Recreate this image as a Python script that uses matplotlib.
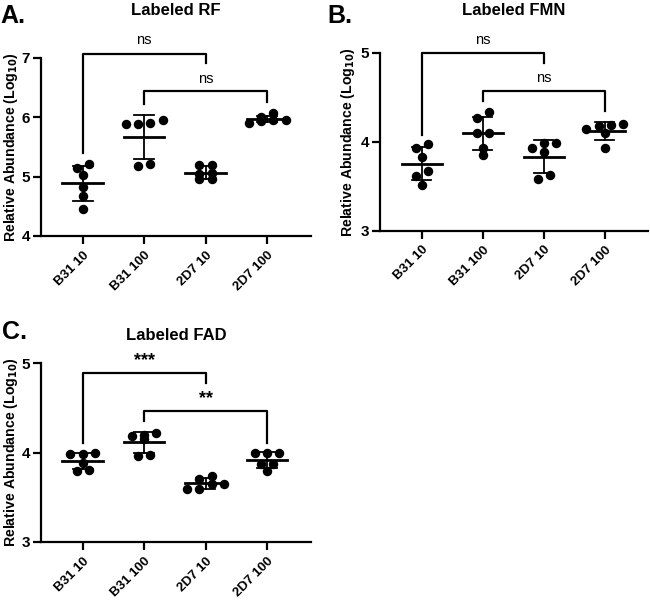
import numpy as np
import matplotlib
matplotlib.use("Agg")
import matplotlib.pyplot as plt

plt.rcParams['font.family'] = ['Liberation Sans', 'DejaVu Sans']

groups = ["B31 10", "B31 100", "2D7 10", "2D7 100"]

# Labeled RF
rf_b31_10 = [5.15, 5.21, 5.03, 4.83, 4.67, 4.45]
rf_b31_100 = [5.88, 5.88, 5.90, 5.95, 5.17, 5.21]
rf_2d7_10 = [5.19, 4.96, 5.06, 5.19, 4.96, 5.05]
rf_2d7_100 = [5.94, 6.00, 6.07, 5.95, 5.96, 5.91]

# Labeled FMN
fmn_b31_10 = [3.93, 3.97, 3.83, 3.67, 3.62, 3.51]
fmn_b31_100 = [4.27, 4.33, 4.10, 4.10, 3.93, 3.85]
fmn_2d7_10 = [3.99, 3.99, 3.93, 3.88, 3.58, 3.63]
fmn_2d7_100 = [4.20, 4.14, 4.18, 4.10, 4.19, 3.93]

# Labeled FAD
fad_b31_10 = [3.98, 3.99, 3.98, 3.88, 3.79, 3.81]
fad_b31_100 = [4.19, 4.15, 4.20, 4.22, 3.96, 3.97]
fad_2d7_10 = [3.70, 3.59, 3.65, 3.74, 3.59, 3.65]
fad_2d7_100 = [3.99, 3.99, 3.99, 3.87, 3.79, 3.87]

# significance brackets: (left group, right group, label)
rf_sig = [(0, 2, "ns"), (1, 3, "ns")]
fmn_sig = [(0, 2, "ns"), (1, 3, "ns")]
fad_sig = [(0, 2, "***"), (1, 3, "**")]


def row_offsets(vals, thr, step=0.2):
    # prism-like scatter: points with close values go in one row, centred
    order = np.argsort(vals)[::-1]
    rows = []
    for idx in order:
        if rows and vals[rows[-1][0]] - vals[idx] <= thr:
            rows[-1].append(idx)
        else:
            rows.append([idx])
    offs = np.zeros(len(vals))
    for r in rows:
        r = sorted(r, key=lambda j: vals[j])
        n = len(r)
        for k, j in enumerate(r):
            offs[j] = (k - (n - 1) / 2) * step
    return offs


def draw_panel(rect, title, title_y, data, ylim, yticks, sig, brk, label_x):
    ax = fig.add_axes(rect)
    yr = ylim[1] - ylim[0]
    for i, vals in enumerate(data):
        vals = np.array(vals)
        offs = row_offsets(vals, yr * 0.032)
        ax.plot(i + offs, vals, 'o', color='black', ms=5.8, clip_on=False, zorder=3)
        m = vals.mean()
        sd = vals.std(ddof=1)
        ax.plot([i - 0.33, i + 0.33], [m, m], color='black', lw=2.0, zorder=4)
        ax.plot([i, i], [m - sd, m + sd], color='black', lw=1.3, zorder=4)
        ax.plot([i - 0.16, i + 0.16], [m + sd, m + sd], color='black', lw=1.3, zorder=4)
        ax.plot([i - 0.16, i + 0.16], [m - sd, m - sd], color='black', lw=1.3, zorder=4)
    for (a, b, lab), (yb, yl, yrgt, yt) in zip(sig, brk):
        ax.plot([a, a, b, b], [yl, yb, yb, yrgt], color='black', lw=1.6, clip_on=False)
        if lab == "ns":
            ax.text((a + b) / 2, yt, lab, ha='center', va='center', fontsize=10.5)
        else:
            ax.text((a + b) / 2, yt, lab, ha='center', va='center', fontsize=13, fontweight='bold')
    ax.set_xlim(-0.68, 3.71)
    ax.set_ylim(*ylim)
    ax.set_yticks(yticks)
    ax.set_xticks(range(len(groups)))
    ax.set_xticklabels(groups, rotation=45, ha='right', rotation_mode='anchor', fontweight='bold', fontsize=9.5)
    for t in ax.get_yticklabels():
        t.set_fontweight('bold')
        t.set_fontsize(11)
    ax.spines['top'].set_visible(False)
    ax.spines['right'].set_visible(False)
    ax.spines['left'].set_linewidth(1.6)
    ax.spines['bottom'].set_linewidth(1.6)
    ax.tick_params(width=1.6, length=6)
    ax.tick_params(axis='y', pad=2)
    ax.set_ylabel("Relative Abundance (Log$_{\\mathbf{10}}$)", fontweight='bold', fontsize=10.2)
    ax.yaxis.set_label_coords(label_x, 0.5)
    pos = ax.get_position()
    fig.text(pos.x0 + pos.width / 2, title_y, title, ha='center', va='center', fontweight='bold', fontsize=12)
    return ax


fig = plt.figure(figsize=(6.5, 6.02), dpi=100)

axA = draw_panel([0.063, 0.608, 0.415, 0.296], "Labeled RF", 0.983,
                 [rf_b31_10, rf_b31_100, rf_2d7_10, rf_2d7_100], (4, 7), [4, 5, 6, 7], rf_sig,
                 [(7.07, 5.39, 6.91, 7.30), (6.44, 6.22, 6.26, 6.65)], -0.078)
axB = draw_panel([0.585, 0.617, 0.412, 0.295], "Labeled FMN", 0.983,
                 [fmn_b31_10, fmn_b31_100, fmn_2d7_10, fmn_2d7_100], (3, 5), [3, 4, 5], fmn_sig,
                 [(5.0, 4.08, 4.89, 5.15), (4.575, 4.455, 4.35, 4.72)], -0.085)
axC = draw_panel([0.063, 0.100, 0.415, 0.2965], "Labeled FAD", 0.4435,
                 [fad_b31_10, fad_b31_100, fad_2d7_10, fad_2d7_100], (3, 5), [3, 4, 5], fad_sig,
                 [(4.888, 4.11, 4.776, 5.03), (4.465, 4.353, 4.11, 4.61)], -0.078)

fig.text(0.0, 0.993, "A.", fontsize=18, fontweight='bold', va='top')
fig.text(0.503, 0.993, "B.", fontsize=18, fontweight='bold', va='top')
fig.text(0.003, 0.468, "C.", fontsize=18, fontweight='bold', va='top')

fig.savefig("out.png", dpi=100)
